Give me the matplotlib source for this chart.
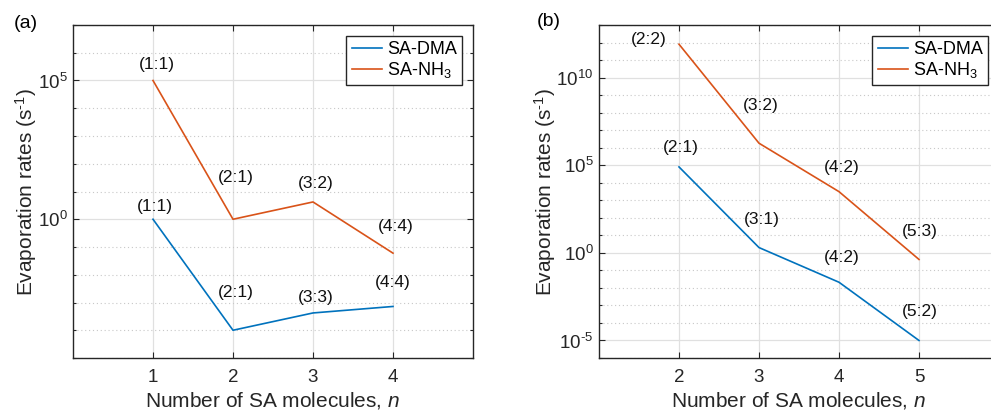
import numpy as np
import matplotlib
matplotlib.use('Agg')
import matplotlib.pyplot as plt
from matplotlib.ticker import FixedLocator, NullFormatter

plt.rcParams['font.family'] = ['Liberation Sans', 'DejaVu Sans']
plt.rcParams['mathtext.fontset'] = 'custom'
plt.rcParams['mathtext.rm'] = 'Liberation Sans'
plt.rcParams['mathtext.it'] = 'Liberation Sans:italic'

BLUE = '#0072BD'
ORANGE = '#D95319'
GRID = '#e0e0e0'
AX_CLR = '#262626'

# Panel (a): n = 1..4
n_a = [1, 2, 3, 4]
dma_a = [1.0, 1.0e-4, 4.2e-4, 7.2e-4]
nh3_a = [1.0e5, 1.0, 4.2, 6.0e-2]
dma_a_lbl = ['(1:1)', '(2:1)', '(3:3)', '(4:4)']
nh3_a_lbl = ['(1:1)', '(2:1)', '(3:2)', '(4:4)']

# Panel (b): n = 2..5
n_b = [2, 3, 4, 5]
dma_b = [8.0e4, 2.0, 2.1e-2, 1.0e-5]
nh3_b = [8.0e11, 1.8e6, 3.1e3, 0.42]
dma_b_lbl = ['(2:1)', '(3:1)', '(4:2)', '(5:2)']
nh3_b_lbl = ['(2:2)', '(3:2)', '(4:2)', '(5:3)']

# label anchor (x, y) per point
dma_a_pos = [(1.02, 10**0.47), (2.03, 10**-2.64), (3.03, 10**-2.83), (4.0, 10**-2.28)]
nh3_a_pos = [(1.05, 10**5.58), (2.03, 10**1.52), (3.03, 10**1.30), (4.03, 10**-0.25)]
dma_b_pos = [(2.02, 10**6.03), (3.03, 10**1.9), (4.03, 10**-0.25), (5.01, 10**-3.33)]
nh3_b_pos = [(1.62, 10**12.19), (3.02, 10**8.42), (4.04, 10**4.87), (5.01, 10**1.23)]

HY = '\u2010'  # plain hyphen for exponents


def exp_label(t):
    k = int(round(np.log10(t)))
    s = str(abs(k)) if k >= 0 else HY + str(abs(k))
    return r'10$^{%s}$' % s


def style_axes(ax, xlim, xticks, ylim, yticks, minor):
    ax.set_yscale('log')
    ax.set_xlim(*xlim)
    ax.set_ylim(*ylim)
    ax.set_xticks(xticks)
    ax.yaxis.set_major_locator(FixedLocator(yticks))
    ax.yaxis.set_minor_locator(FixedLocator(minor))
    ax.yaxis.set_minor_formatter(NullFormatter())
    ax.set_yticklabels([exp_label(t) for t in yticks])
    ax.grid(True, which='major', color=GRID, lw=0.9)
    ax.grid(True, which='minor', axis='y', color='#c8c8c8', lw=0.8, ls=(0, (1, 2.5)))
    ax.set_axisbelow(True)
    ax.tick_params(which='both', direction='in', top=True, right=True,
                   colors=AX_CLR, labelsize=13.5, width=0.8)
    ax.tick_params(which='major', length=4)
    ax.tick_params(which='minor', length=2.5)
    ax.tick_params(axis='x', pad=8)
    ax.tick_params(axis='y', pad=4)
    for sp in ax.spines.values():
        sp.set_color(AX_CLR)
        sp.set_linewidth(1.0)
    ax.set_xlabel(r'Number of SA molecules, $\mathit{n}$', fontsize=15, color=AX_CLR,
                  labelpad=3)
    ax.set_ylabel('Evaporation rates (s$^{%s1}$)' % HY, fontsize=15, color=AX_CLR,
                  labelpad=-1)


def draw(ax, n, dma, nh3, dma_lbl, nh3_lbl, dma_pos, nh3_pos):
    ax.plot(n, dma, color=BLUE, lw=1.2, label='SA-DMA')
    ax.plot(n, nh3, color=ORANGE, lw=1.2, label=r'SA-NH$_3$')
    for t, (x, y) in zip(dma_lbl, dma_pos):
        ax.text(x, y, t, ha='center', va='center', fontsize=12.5, color='#111111')
    for t, (x, y) in zip(nh3_lbl, nh3_pos):
        ax.text(x, y, t, ha='center', va='center', fontsize=12.5, color='#111111')
    leg = ax.legend(loc='upper right', fontsize=13, frameon=True, fancybox=False,
                    handlelength=1.7, handletextpad=0.25, borderpad=0.3,
                    labelspacing=0.1, borderaxespad=0.6)
    leg.get_frame().set_edgecolor(AX_CLR)
    leg.get_frame().set_linewidth(1.0)
    leg.get_frame().set_alpha(1.0)


fig = plt.figure(figsize=(9.91, 4.11), dpi=100)
fig.patch.set_facecolor('#FFFFFF')

ax1 = fig.add_axes([73 / 991, 1 - 358 / 411, 400 / 991, 333 / 411])
ax2 = fig.add_axes([599 / 991, 1 - 358 / 411, 400 / 991, 333 / 411])

draw(ax1, n_a, dma_a, nh3_a, dma_a_lbl, nh3_a_lbl, dma_a_pos, nh3_a_pos)
style_axes(ax1, (0, 5), [1, 2, 3, 4], (1e-5, 1e7), [1e0, 1e5],
           [10.0 ** k for k in range(-5, 8)])

draw(ax2, n_b, dma_b, nh3_b, dma_b_lbl, nh3_b_lbl, dma_b_pos, nh3_b_pos)
style_axes(ax2, (1, 6), [2, 3, 4, 5], (1e-6, 1e13), [1e-5, 1e0, 1e5, 1e10],
           [10.0 ** k for k in range(-6, 14)])

fig.text(26 / 991, 1 - 24 / 411, '(a)', fontsize=14, ha='center', va='center')
fig.text(549 / 991, 1 - 22 / 411, '(b)', fontsize=14, ha='center', va='center')

fig.savefig('out.png', dpi=100, facecolor='#FFFFFF')
